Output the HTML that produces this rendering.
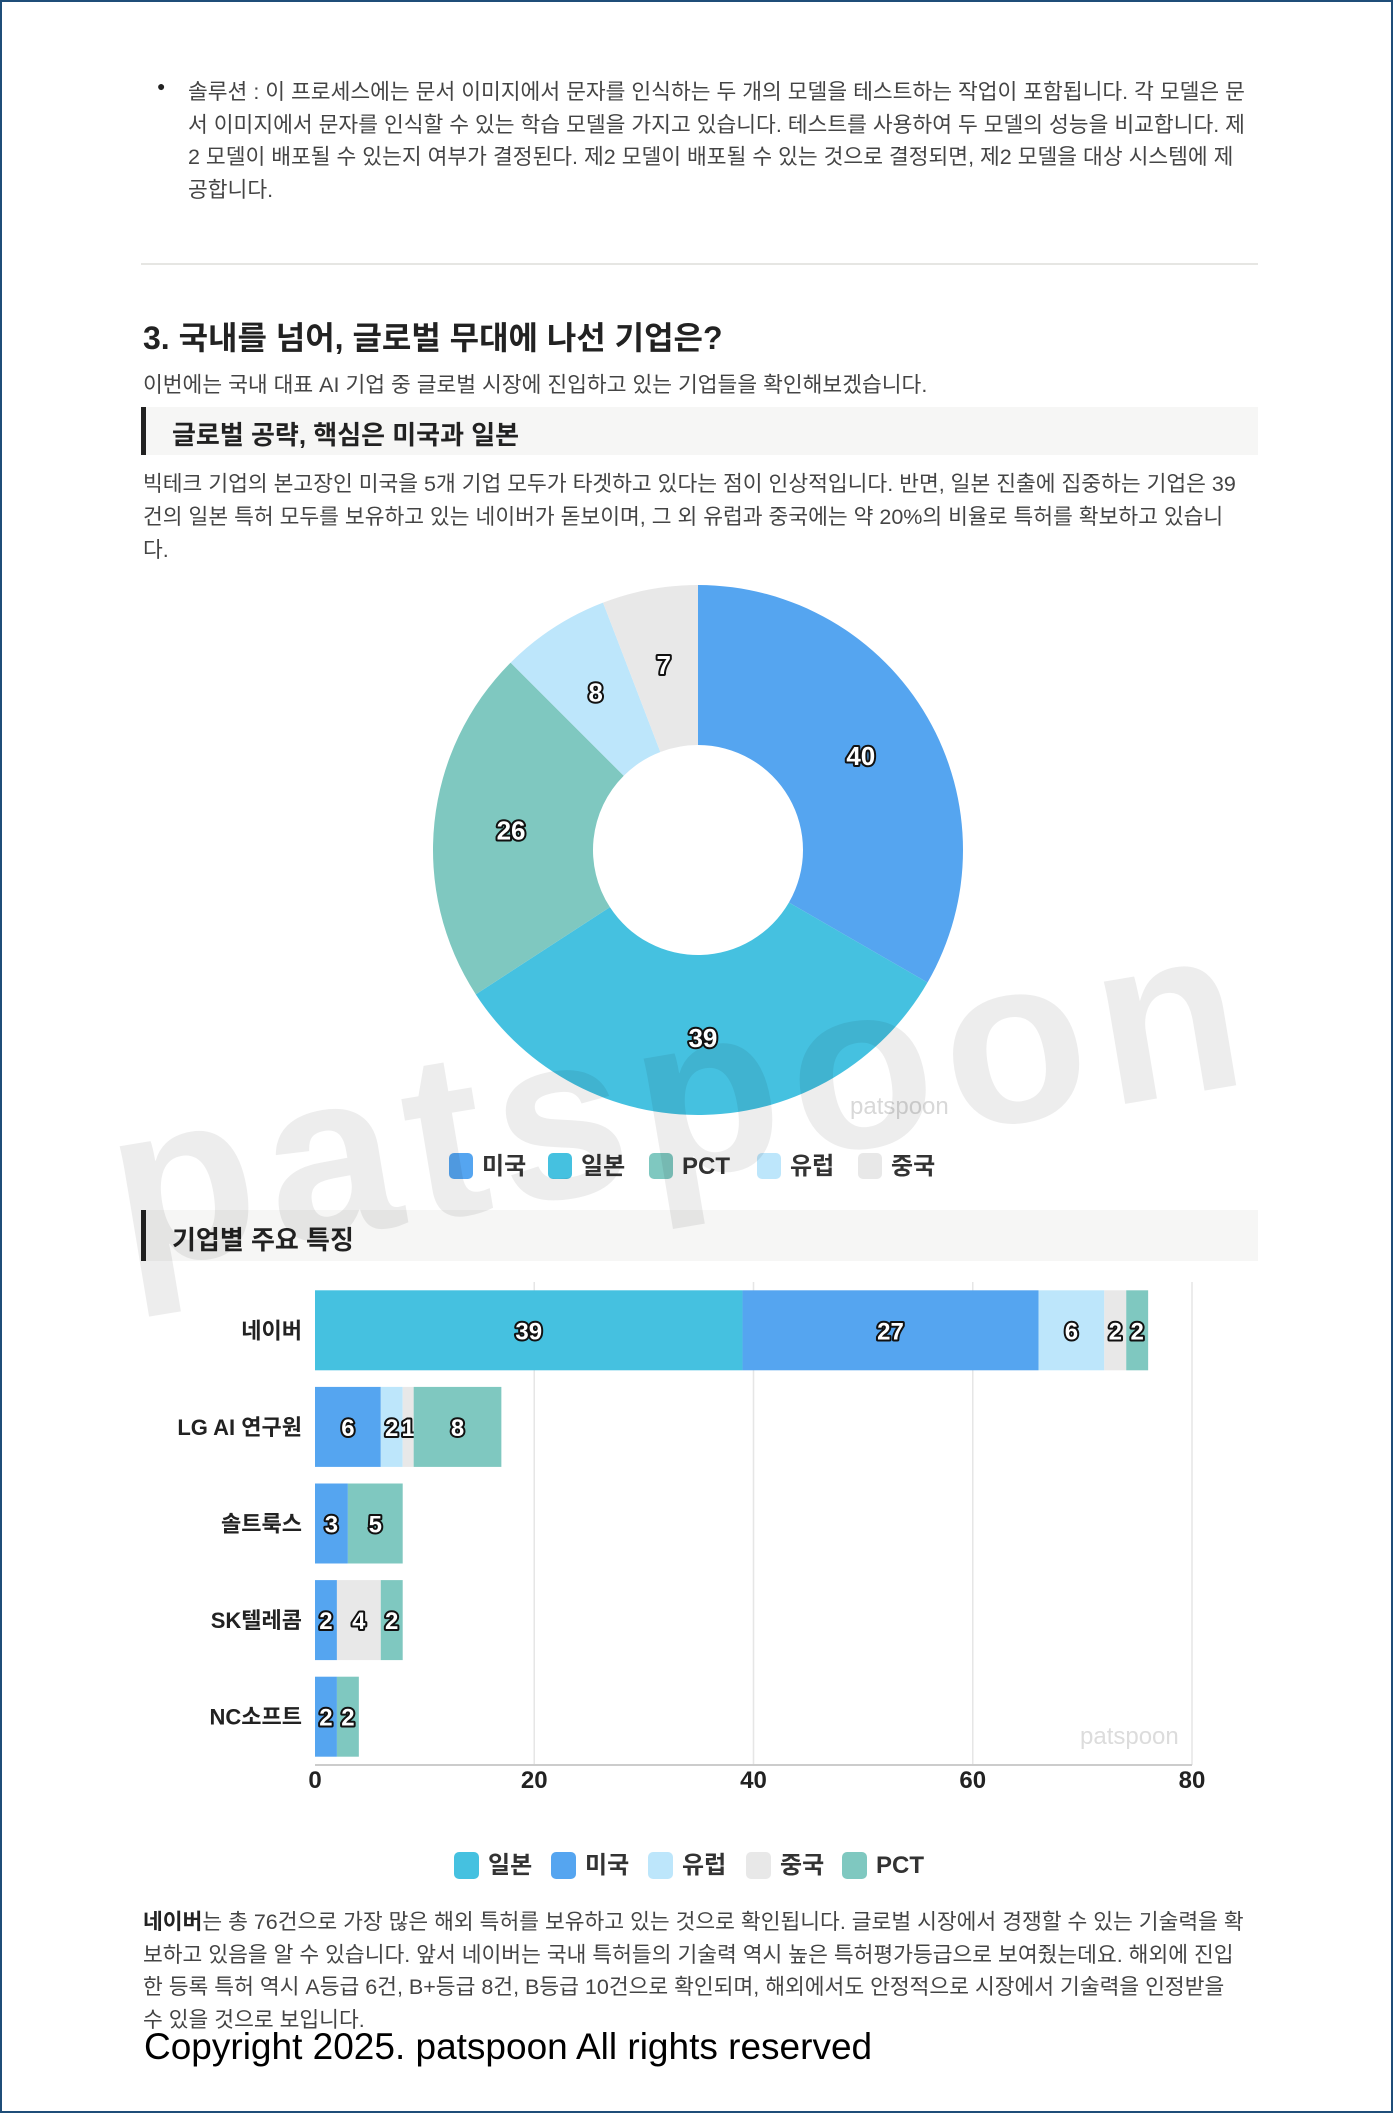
<!DOCTYPE html>
<html><head><meta charset="utf-8">
<style>
body{margin:0;background:#fff;}
#page{position:relative;width:1393px;height:2113px;overflow:hidden;background:#fff;font-family:"Liberation Sans","Noto Sans CJK KR",sans-serif;color:#333;}
#frame{position:absolute;left:0;top:0;width:1389px;height:2109px;border:2px solid #1f4e79;}
.t{position:absolute;white-space:nowrap;}
.p{font-size:21.5px;color:#444;}
.box{position:absolute;left:141px;width:1117px;background:#f6f6f5;border-left:5px solid #222;box-sizing:border-box;}
svg text{font-family:"Liberation Sans","Noto Sans CJK KR",sans-serif;}
</style></head><body>
<div id="page">
<div id="frame"></div>

<div class="t" style="left:157px;top:78px;font-size:14px;color:#222;">●</div>
<div class="t p" style="left:188px;top:76px;line-height:32.5px;">솔루션 : 이 프로세스에는 문서 이미지에서 문자를 인식하는 두 개의 모델을 테스트하는 작업이 포함됩니다. 각 모델은 문<br>서 이미지에서 문자를 인식할 수 있는 학습 모델을 가지고 있습니다. 테스트를 사용하여 두 모델의 성능을 비교합니다. 제<br>2 모델이 배포될 수 있는지 여부가 결정된다. 제2 모델이 배포될 수 있는 것으로 결정되면, 제2 모델을 대상 시스템에 제<br>공합니다.</div>
<div style="position:absolute;left:141px;top:263px;width:1117px;height:2px;background:#e6e6e3;"></div>

<div class="t" style="left:143px;top:313px;font-size:32px;font-weight:bold;color:#222;">3. 국내를 넘어, 글로벌 무대에 나선 기업은?</div>
<div class="t p" style="left:143px;top:368px;">이번에는 국내 대표 AI 기업 중 글로벌 시장에 진입하고 있는 기업들을 확인해보겠습니다.</div>
<div class="box" style="top:407px;height:48px;"><span class="t" style="left:26px;top:8px;font-size:26px;font-weight:bold;color:#222;">글로벌 공략, 핵심은 미국과 일본</span></div>
<div class="t p" style="left:143px;top:468px;line-height:33px;">빅테크 기업의 본고장인 미국을 5개 기업 모두가 타겟하고 있다는 점이 인상적입니다. 반면, 일본 진출에 집중하는 기업은 39<br>건의 일본 특허 모두를 보유하고 있는 네이버가 돋보이며, 그 외 유럽과 중국에는 약 20%의 비율로 특허를 확보하고 있습니<br>다.</div>

<svg id="donut" style="position:absolute;left:0;top:0" width="1393" height="1200"></svg>

<div class="box" style="top:1210px;height:51px;"><span class="t" style="left:26px;top:10px;font-size:26px;font-weight:bold;color:#222;">기업별 주요 특징</span></div>

<svg id="bars" style="position:absolute;left:0;top:1200px" width="1393" height="700"></svg>

<div class="t p" style="left:143px;top:1906px;line-height:32.7px;"><b style="color:#222">네이버</b>는 총 76건으로 가장 많은 해외 특허를 보유하고 있는 것으로 확인됩니다. 글로벌 시장에서 경쟁할 수 있는 기술력을 확<br>보하고 있음을 알 수 있습니다. 앞서 네이버는 국내 특허들의 기술력 역시 높은 특허평가등급으로 보여줬는데요. 해외에 진입<br>한 등록 특허 역시 A등급 6건, B+등급 8건, B등급 10건으로 확인되며, 해외에서도 안정적으로 시장에서 기술력을 인정받을<br>수 있을 것으로 보입니다.</div>
<div class="t" style="left:144px;top:2026px;font-size:37px;color:#000;">Copyright 2025. patspoon All rights reserved</div>

<div class="t" style="left:92px;top:1075px;font-size:235px;font-weight:bold;color:rgba(0,0,0,0.07);transform:rotate(-9.5deg);transform-origin:0 0;letter-spacing:12px;line-height:1;">patspoon</div>
</div>

<script>
const NS='http://www.w3.org/2000/svg';
function mk(p,tag,a){const e=document.createElementNS(NS,tag);for(const k in a)e.setAttribute(k,a[k]);p.appendChild(e);return e;}

// donut data
const donutLabels=['미국','일본','PCT','유럽','중국'];
const donutValues=[40,39,26,8,7];
const donutColors=['#55a5f0','#45c1e0','#7fc8c0','#bde6fb','#e8e8e8'];

const dsvg=document.getElementById('donut');
const cx=698,cy=850,R=265,r0=105;
const tot=donutValues.reduce((a,b)=>a+b,0);
let acc=0;
donutValues.forEach((v,i)=>{
  const a0=acc/tot*2*Math.PI-Math.PI/2;acc+=v;const a1=acc/tot*2*Math.PI-Math.PI/2;
  const lg=(a1-a0)>Math.PI?1:0;
  const pt=(rr,a)=>[cx+rr*Math.cos(a),cy+rr*Math.sin(a)];
  const [px0,py0]=pt(R,a0),[px1,py1]=pt(R,a1),[px2,py2]=pt(r0,a1),[px3,py3]=pt(r0,a0);
  const s=mk(dsvg,'path',{d:`M${px0},${py0}A${R},${R} 0 ${lg} 1 ${px1},${py1}L${px2},${py2}A${r0},${r0} 0 ${lg} 0 ${px3},${py3}Z`,fill:donutColors[i]});
  
  
  const am=(a0+a1)/2,[lx,ly]=pt(188,am);
  const t=mk(dsvg,'text',{x:lx,y:ly+9,'text-anchor':'middle','font-size':26,'font-weight':'bold',fill:'#fff',stroke:'#111','stroke-width':4,'paint-order':'stroke','stroke-linejoin':'round'});
  t.textContent=v;
  
  
});
const wm1=mk(dsvg,'text',{x:850,y:1114,'font-size':24,fill:'#d8d8d8'});wm1.textContent='patspoon';


const donutLegX=[449,548,649,757,858];
donutLabels.forEach((l,i)=>{
  const g=mk(dsvg,'g',{});
  
  
  mk(g,'rect',{x:donutLegX[i],y:1153,width:24,height:26,rx:5,fill:donutColors[i]});
  const t=mk(g,'text',{x:donutLegX[i]+33,y:1174,'font-size':24,'font-weight':'bold',fill:'#333'});t.textContent=l;
});

// bar data
const companies=['네이버','LG AI 연구원','솔트룩스','SK텔레콤','NC소프트'];
const seriesNames=['일본','미국','유럽','중국','PCT'];
const japan=[39,0,0,0,0];
const usa=[27,6,3,2,2];
const europe=[6,2,0,0,0];
const china=[2,1,0,4,0];
const pct=[2,8,5,2,2];
const xTicks=[0,20,40,60,80];
const barColors=['#45c1e0','#55a5f0','#bde6fb','#e8e8e8','#7fc8c0'];
const series=[japan,usa,europe,china,pct];

const bsvg=document.getElementById('bars');
const bx0=315,bx1=1192,xmax=80,plotTop=82,plotBot=565;
const X=v=>bx0+v/xmax*(bx1-bx0);
const band=(plotBot-plotTop)/companies.length,bh=80;
xTicks.forEach(t=>{
  if(t>0){const l=mk(bsvg,'line',{x1:X(t),x2:X(t),y1:plotTop,y2:plotBot,stroke:'#e6e6e6','stroke-width':1.5});
  }
  const tx=mk(bsvg,'text',{x:X(t),y:588,'text-anchor':'middle','font-size':24,'font-weight':'bold',fill:'#222'});tx.textContent=t;
  
  
});
companies.forEach((c,ci)=>{
  const y=plotTop+ci*band+(band-bh)/2;
  const ct=mk(bsvg,'text',{x:302,y:y+bh/2+8,'text-anchor':'end','font-size':22,'font-weight':'bold',fill:'#222'});ct.textContent=c;
  
  
  let s=0;
  series.forEach((arr,si)=>{
    const v=arr[ci];if(!v)return;
    const rc=mk(bsvg,'rect',{x:X(s),y:y,width:X(s+v)-X(s),height:bh,fill:barColors[si]});
    
    
    const t=mk(bsvg,'text',{x:(X(s)+X(s+v))/2,y:y+bh/2+9,'text-anchor':'middle','font-size':24,'font-weight':'bold',fill:'#fff',stroke:'#111','stroke-width':4,'paint-order':'stroke','stroke-linejoin':'round'});
    t.textContent=v;
    
    
    s+=v;
  });
});
const ax=mk(bsvg,'line',{x1:bx0,x2:bx1,y1:plotBot,y2:plotBot,stroke:'#ccc','stroke-width':2});


const wm2=mk(bsvg,'text',{x:1080,y:544,'font-size':24,fill:'#dcdcdc'});wm2.textContent='patspoon';


const barLegX=[454,551,648,746,842];
seriesNames.forEach((l,i)=>{
  const g=mk(bsvg,'g',{});
  
  
  mk(g,'rect',{x:barLegX[i],y:652,width:25,height:27,rx:5,fill:barColors[i]});
  const t=mk(g,'text',{x:barLegX[i]+34,y:673,'font-size':24,'font-weight':'bold',fill:'#333'});t.textContent=l;
});
</script>
</body></html>
